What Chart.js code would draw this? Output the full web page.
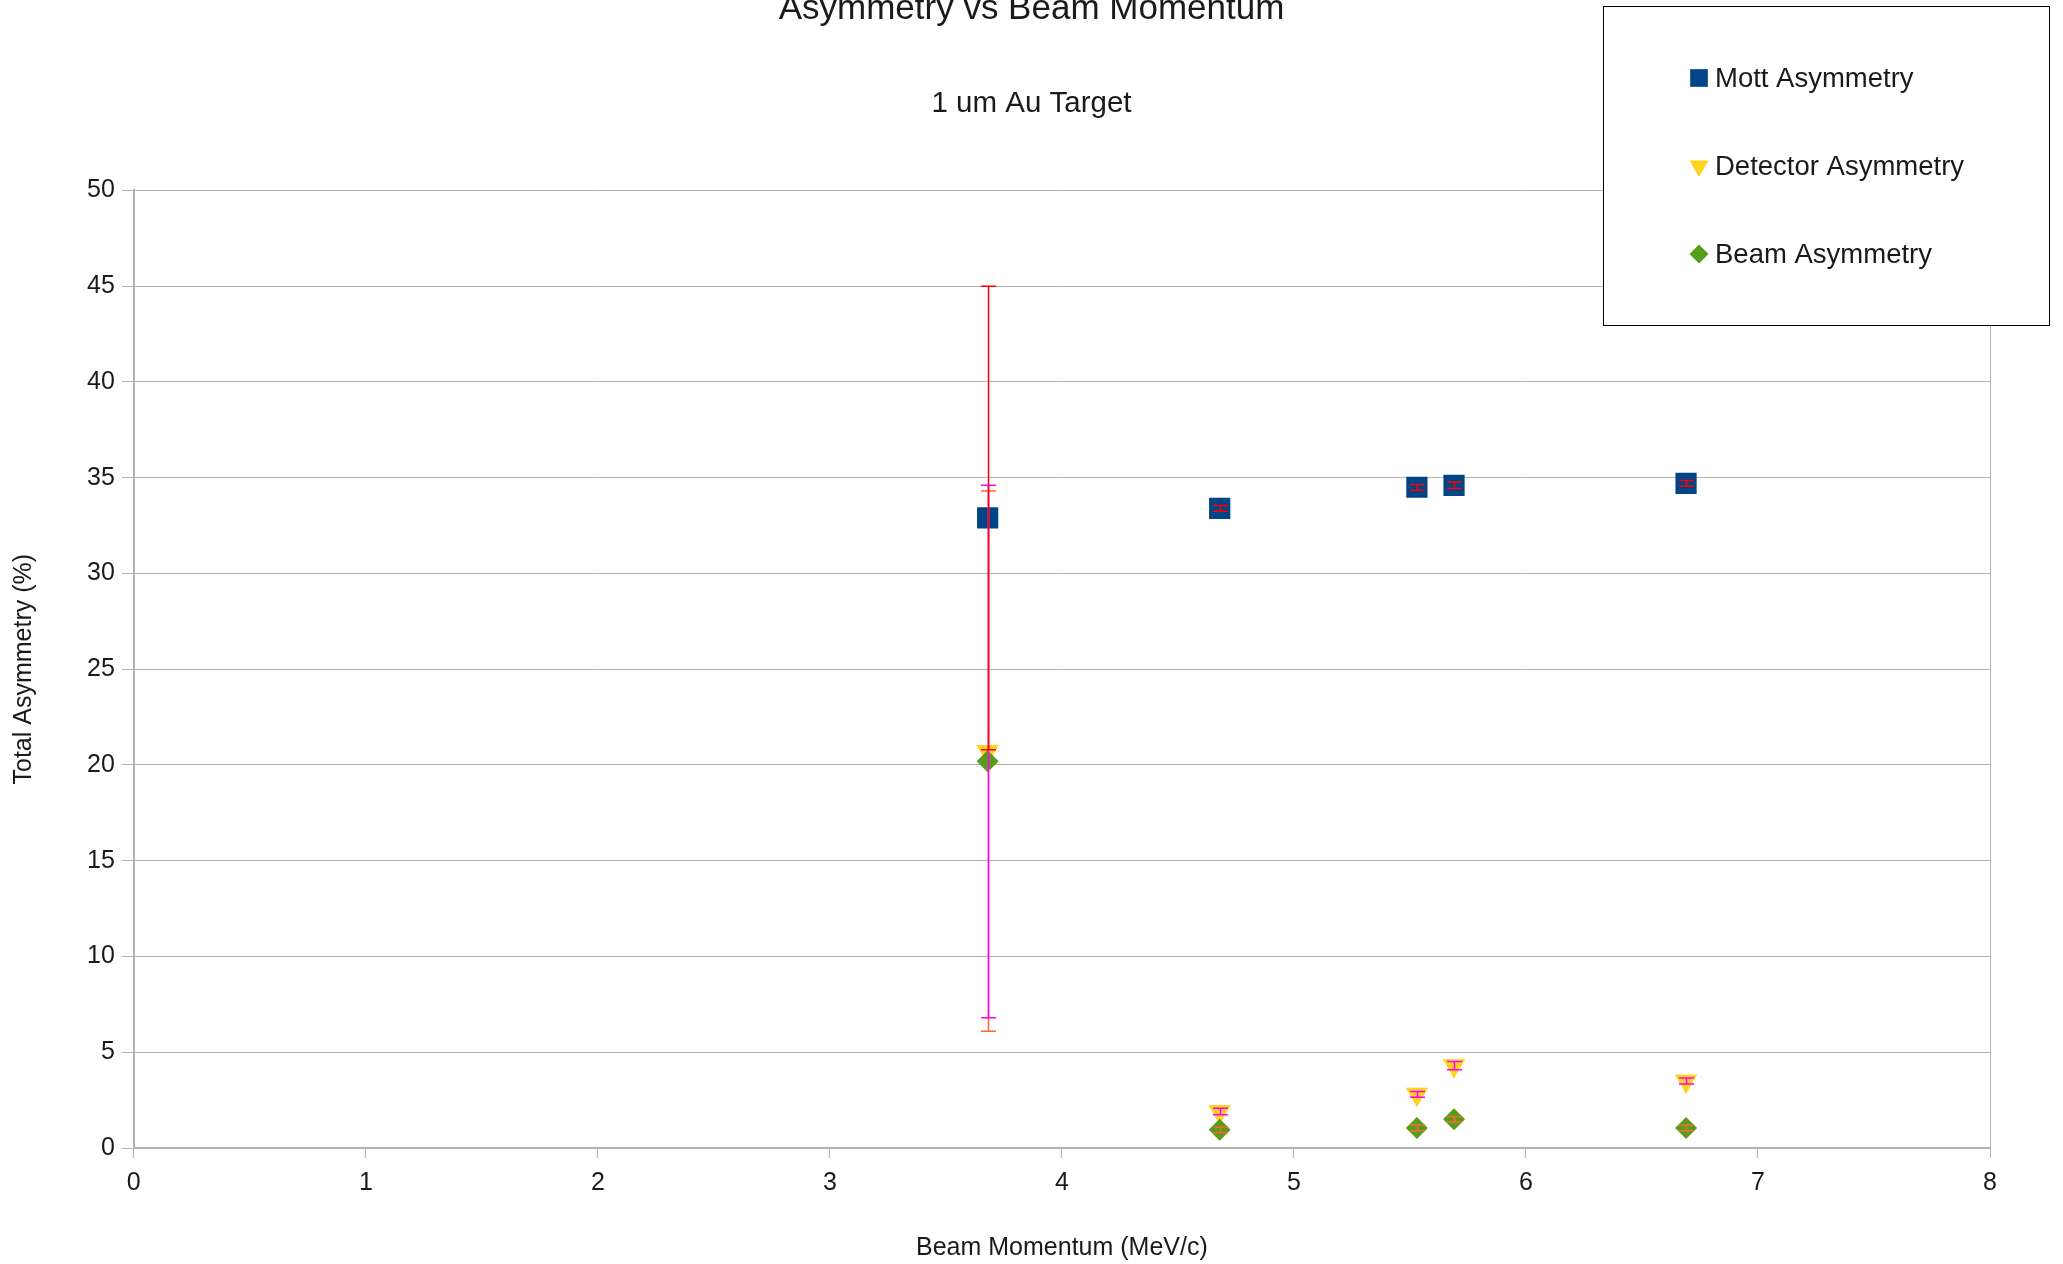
<!DOCTYPE html>
<html>
<head>
<meta charset="utf-8">
<title>Asymmetry vs Beam Momentum</title>
<script src="https://cdn.jsdelivr.net/npm/chart.js@4.4.1/dist/chart.umd.min.js"></script>
<style>
    html, body { margin: 0; padding: 0; background: #ffffff; }
    #wrap { width: 2063px; height: 1264px; }
</style>
</head>
<body>
<div id="wrap"><canvas id="asymChart" width="2063" height="1264"></canvas></div>
<script>
// beam momentum (MeV/c) of each run
const momentum = [3.68, 4.68, 5.53, 5.69, 6.69];

// total asymmetry (%) and its error, per series
const mottAsym = [32.9, 33.4, 34.5, 34.6, 34.7];
const mottErr = [12.1, 0.15, 0.15, 0.17, 0.15];
const detectorAsym = [20.7, 1.9, 2.8, 4.3, 3.5];
const detectorErr = [13.9, 0.17, 0.15, 0.21, 0.16];
const beamAsym = [20.2, 0.95, 1.05, 1.5, 1.05];
const beamErr = [14.1, 0.15, 0.15, 0.15, 0.15];

const seriesNames = ["Mott Asymmetry", "Detector Asymmetry", "Beam Asymmetry"];

// axis ranges / tick steps
const xRange = [0, 8];
const xStep = 1;
const yRange = [0, 50];
const yStep = 5;

const FONT = "'Liberation Sans', Arial, sans-serif";
const TEXT = "#1a1a1a";
const GRID = "#b3b3b3";

function toPoints(xs, ys) {
    return xs.map((x, i) => ({ x, y: ys[i] }));
}

const errorSets = [
    { values: mottErr, color: "#ff0000" },
    { values: detectorErr, color: "#ff00ff" },
    { values: beamErr, color: "#ff6633" },
];

// error bars: beam first, mott last (red sits on top)
const errorBarsPlugin = {
    id: "errorBars",
    afterDatasetsDraw(chart) {
        const { ctx } = chart;
        const xs = chart.scales.x;
        const ys = chart.scales.y;
        [2, 1, 0].forEach((idx) => {
            const ds = chart.data.datasets[idx];
            const err = errorSets[idx];
            ctx.save();
            ctx.strokeStyle = err.color;
            ctx.lineWidth = 1.5;
            ds.data.forEach((pt, i) => {
                const px = Math.round(xs.getPixelForValue(pt.x)) + 0.5;
                const top = ys.getPixelForValue(pt.y + err.values[i]);
                const bot = ys.getPixelForValue(pt.y - err.values[i]);
                ctx.beginPath();
                ctx.moveTo(px, top);
                ctx.lineTo(px, bot);
                ctx.moveTo(px - 7.5, top);
                ctx.lineTo(px + 7.5, top);
                ctx.moveTo(px - 7.5, bot);
                ctx.lineTo(px + 7.5, bot);
                ctx.stroke();
            });
            ctx.restore();
        });
    },
};

// boxed legend in the top right corner, drawn over the plot
const boxLegendPlugin = {
    id: "boxLegend",
    afterDraw(chart) {
        const { ctx } = chart;
        const box = { left: 1603.5, top: 6.5, width: 446, height: 319 };
        ctx.save();
        ctx.fillStyle = "#ffffff";
        ctx.fillRect(box.left, box.top, box.width, box.height);
        ctx.strokeStyle = "#000000";
        ctx.lineWidth = 1;
        ctx.strokeRect(box.left, box.top, box.width, box.height);

        const legendRadius = [12.5, 11, 9.5];
        chart.data.datasets.forEach((ds, i) => {
            const cy = 78 + i * 88;
            const opts = {
                pointStyle: ds.pointStyle,
                rotation: ds.rotation || 0,
                radius: legendRadius[i],
                borderWidth: 0,
            };
            ctx.fillStyle = ds.backgroundColor;
            ctx.strokeStyle = ds.backgroundColor;
            Chart.helpers.drawPoint(ctx, opts, 1699, cy);
            ctx.fillStyle = TEXT;
            ctx.font = `27.5px ${FONT}`;
            ctx.textAlign = "left";
            ctx.textBaseline = "middle";
            ctx.fillText(ds.label, 1715, cy + 1);
        });
        ctx.restore();
    },
};

const canvas = document.getElementById("asymChart");
new Chart(canvas, {
    type: "scatter",
    data: {
        datasets: [
            {
                label: seriesNames[0],
                data: toPoints(momentum, mottAsym),
                backgroundColor: "#004586",
                borderWidth: 0,
                pointStyle: "rect",
                pointRadius: 15,
                pointHoverRadius: 15,
                order: 2,
            },
            {
                label: seriesNames[1],
                data: toPoints(momentum, detectorAsym),
                backgroundColor: "#ffd320",
                borderWidth: 0,
                pointStyle: "triangle",
                rotation: 180,
                pointRadius: 13,
                pointHoverRadius: 13,
                order: 1,
            },
            {
                label: seriesNames[2],
                data: toPoints(momentum, beamAsym),
                backgroundColor: "#579d1c",
                borderWidth: 0,
                pointStyle: "rectRot",
                pointRadius: 11,
                pointHoverRadius: 11,
                order: 0,
            },
        ],
    },
    options: {
        responsive: false,
        animation: false,
        devicePixelRatio: 1,
        layout: { padding: 0 },
        plugins: {
            legend: { display: false },
            tooltip: { enabled: false },
            title: {
                display: true,
                text: "Asymmetry vs Beam Momentum",
                color: TEXT,
                font: { family: FONT, size: 35, weight: "normal" },
                padding: { top: -12, bottom: 0 },
            },
            subtitle: {
                display: true,
                text: "1 um Au Target",
                color: TEXT,
                font: { family: FONT, size: 29.5, weight: "normal" },
                padding: { top: 56, bottom: 69 },
            },
        },
        scales: {
            x: {
                type: "linear",
                min: xRange[0],
                max: xRange[1],
                ticks: {
                    stepSize: xStep,
                    color: TEXT,
                    padding: 10,
                    font: { family: FONT, size: 25 },
                },
                grid: {
                    color: (c) => (c.tick && c.tick.value === xRange[1] ? GRID : "rgba(0,0,0,0)"),
                    tickColor: GRID,
                    tickLength: 10,
                    lineWidth: 1,
                },
                border: { color: GRID, width: 2 },
                title: {
                    display: true,
                    text: "Beam Momentum (MeV/c)",
                    color: TEXT,
                    font: { family: FONT, size: 25 },
                    padding: { top: 25, bottom: 1 },
                },
            },
            y: {
                type: "linear",
                min: yRange[0],
                max: yRange[1],
                ticks: {
                    stepSize: yStep,
                    color: TEXT,
                    padding: 7,
                    font: { family: FONT, size: 25 },
                },
                grid: {
                    color: GRID,
                    tickColor: GRID,
                    tickLength: 12,
                    lineWidth: 1,
                },
                border: { color: GRID, width: 2 },
                title: {
                    display: true,
                    text: "Total Asymmetry (%)",
                    color: TEXT,
                    font: { family: FONT, size: 25 },
                    padding: { top: 9, bottom: 41 },
                },
            },
            // empty right-hand margin so the titles centre on the whole page
            yRight: {
                type: "linear",
                position: "right",
                display: true,
                grid: { display: false, drawTicks: false },
                border: { display: false },
                ticks: { display: false },
                afterFit(scale) {
                    scale.width = 73;
                },
            },
        },
    },
    plugins: [errorBarsPlugin, boxLegendPlugin],
});
</script>
</body>
</html>
